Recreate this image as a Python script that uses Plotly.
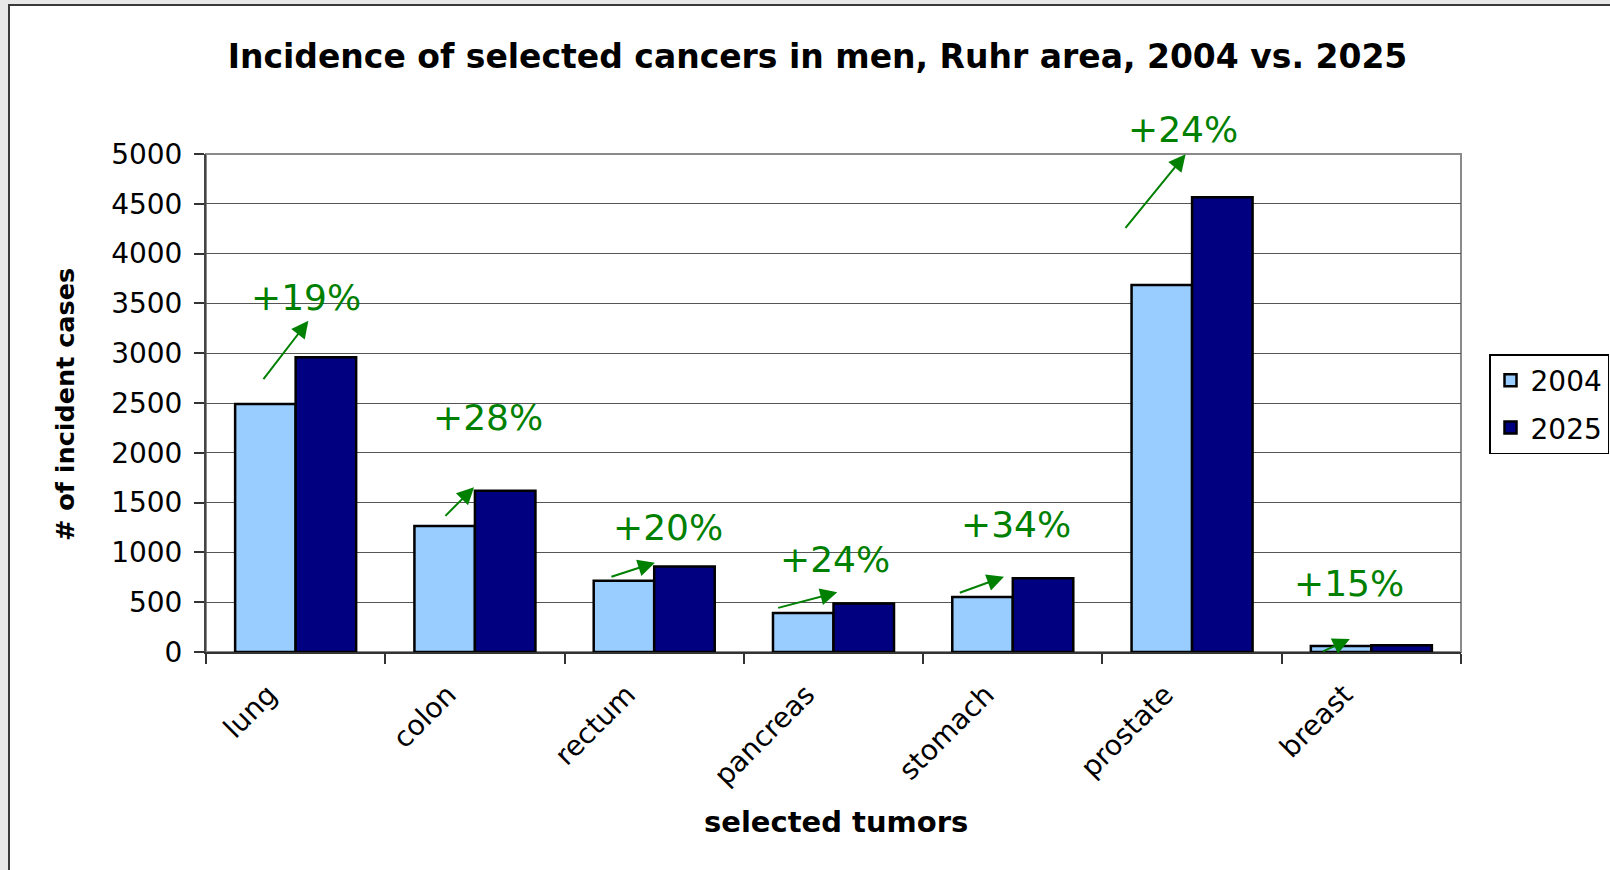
import plotly.graph_objects as go

# Incident cases per tumour site, men, Ruhr area
tumors = ["lung", "colon", "rectum", "pancreas", "stomach", "prostate", "breast"]
cases_2004 = [2490, 1265, 715, 392, 552, 3685, 60]
cases_2025 = [2960, 1620, 858, 487, 740, 4565, 69]
y_ticks = [0, 500, 1000, 1500, 2000, 2500, 3000, 3500, 4000, 4500, 5000]

# Percentage change, written above each pair of bars
pct_change = [round((b / a - 1) * 100) for a, b in zip(cases_2004, cases_2025)]

# Annotation placement (category offset, y value)
label_pos = [(0.06, 3556), (0.071, 2350), (0.079, 1247), (0.007, 928),
             (0.02, 1278), (-0.051, 5241), (-0.122, 690)]
arrow_tail = [(-0.186, 2724), (-0.173, 1352), (-0.247, 750), (-0.317, 439),
              (-0.304, 589), (-0.378, 4244), (-0.278, 0)]
arrow_head = [(0.071, 3326), (-0.005, 1654), (0.004, 897), (0.021, 599),
              (-0.049, 756), (-0.036, 4997), (-0.12, 130)]

FONT = "DejaVu Sans"
GREEN = "#008000"
Y_MAX = 5000

# plot-area pixel frame used to express paper coordinates
W, H = 1610, 870
L, R, T, B = 206, 1461, 154, 652


def px_x(px):
    return (px - L) / (R - L)


def px_y(py):
    return (B - py) / (B - T)


def cat_x(pos):
    # category index -> paper fraction of the x axis
    return (pos + 0.5) / len(tumors)


fig = go.Figure()
fig.add_trace(go.Bar(
    x=tumors, y=cases_2004, name="2004", legendgroup="a",
    marker=dict(color="#99CCFF", line=dict(color="black", width=2.5)),
))
fig.add_trace(go.Bar(
    x=tumors, y=cases_2025, name="2025", legendgroup="b",
    marker=dict(color="#000080", line=dict(color="black", width=2.5)),
))

annotations = []
for i, p in enumerate(pct_change):
    lx, ly = label_pos[i]
    annotations.append(dict(
        x=cat_x(i + lx), y=ly / Y_MAX, xref="paper", yref="paper",
        text=f"+{p}%", showarrow=False,
        font=dict(family=FONT, size=36, color=GREEN),
        xanchor="center", yanchor="middle",
    ))
    tx, ty = arrow_tail[i]
    hx, hy = arrow_head[i]
    annotations.append(dict(
        x=i + hx, y=hy, xref="x", yref="y",
        ax=i + tx, ay=ty, axref="x", ayref="y",
        text="", showarrow=True, arrowhead=2, arrowsize=1.7,
        arrowwidth=2, arrowcolor=GREEN, standoff=0, startstandoff=0,
    ))

# axis titles
annotations.append(dict(
    x=px_x(65), y=px_y(405), xref="paper", yref="paper",
    text="<b># of incident cases</b>", textangle=-90, showarrow=False,
    font=dict(family=FONT, size=25.5, color="black"),
    xanchor="center", yanchor="middle",
))
annotations.append(dict(
    x=px_x(836), y=px_y(822), xref="paper", yref="paper",
    text="<b>selected tumors</b>", showarrow=False,
    font=dict(family=FONT, size=29, color="black"),
    xanchor="center", yanchor="middle",
))

shapes = [
    # white chart panel with dark frame
    dict(type="rect", xref="paper", yref="paper", layer="below",
         x0=px_x(9), x1=px_x(1640), y0=px_y(900), y1=px_y(5),
         fillcolor="white", line=dict(color="#3a3a3a", width=2)),
    # plot area frame
    dict(type="rect", xref="paper", yref="paper", layer="below",
         x0=0, x1=1, y0=0, y1=1,
         fillcolor="rgba(0,0,0,0)", line=dict(color="#8a8a8a", width=2)),
]

fig.update_layout(
    width=W, height=H,
    margin=dict(l=L, r=W - R, t=T, b=H - B, pad=0, autoexpand=False),
    paper_bgcolor="#e8e8e8",
    plot_bgcolor="white",
    barmode="group", bargap=0.325, bargroupgap=0,
    title=dict(
        text="<b>Incidence of selected cancers in men, Ruhr area, 2004 vs. 2025</b>",
        x=817.5 / W, xanchor="center", xref="container",
        y=1 - 56 / H, yanchor="middle", yref="container",
        font=dict(family=FONT, size=33, color="black"),
    ),
    font=dict(family=FONT, color="black"),
    legend=dict(
        x=px_x(1489), y=px_y(354), xanchor="left", yanchor="top",
        xref="paper", yref="paper",
        bgcolor="white", bordercolor="black", borderwidth=1.5,
        font=dict(family=FONT, size=28, color="black"),
        traceorder="grouped", tracegroupgap=8,
    ),
    xaxis=dict(
        type="category", tickangle=-45, tickson="boundaries",
        ticks="outside", ticklen=10, tickwidth=1.5, tickcolor="#333",
        showline=True, linecolor="#333", linewidth=2,
        showgrid=False, tickfont=dict(family=FONT, size=28, color="black"),
        ticklabelshift=-27, ticklabelstandoff=13,
    ),
    yaxis=dict(
        range=[0, Y_MAX], tickvals=y_ticks,
        ticks="outside", ticklen=10, tickwidth=1.5, tickcolor="#333",
        showline=True, linecolor="#444", linewidth=2,
        showgrid=True, gridcolor="#555", gridwidth=1,
        zeroline=False, ticklabelstandoff=6,
        tickfont=dict(family=FONT, size=28, color="black"),
    ),
    annotations=annotations,
    shapes=shapes,
    showlegend=True,
)

fig.write_html("out.html")
